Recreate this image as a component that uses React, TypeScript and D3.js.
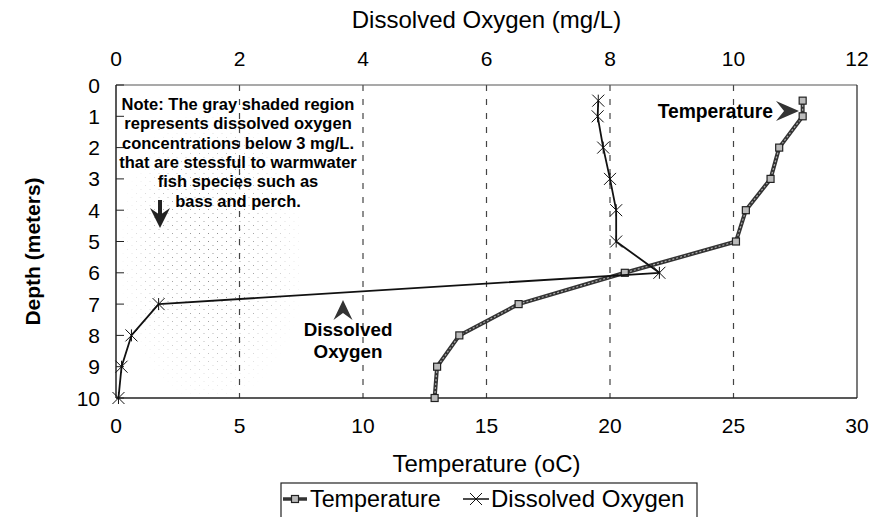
import React from 'react';
import * as d3 from 'd3';

// depth profile readings (m, oC, mg/L)
const depths = [0.5, 1, 2, 3, 4, 5, 6, 7, 8, 9, 10];
const temperature = [27.8, 27.8, 26.85, 26.5, 25.5, 25.1, 20.6, 16.3, 13.9, 13.0, 12.9];
const dissolvedOxygen = [7.81, 7.8, 7.89, 8.0, 8.1, 8.1, 8.8, 0.69, 0.25, 0.09, 0.04];

const tempTicks = [0, 5, 10, 15, 20, 25, 30];
const doTicks = [0, 2, 4, 6, 8, 10, 12];
const depthTicks = [0, 1, 2, 3, 4, 5, 6, 7, 8, 9, 10];
const gridTemps = [5, 10, 15, 20, 25];

const noteLines = [
  'Note: The gray shaded region',
  'represents dissolved oxygen',
  'concentrations below 3 mg/L.',
  'that are stessful to warmwater',
  'fish species such as',
  'bass and perch.',
];

const W = 875;
const H = 517;
const plot = { left: 116, right: 857, top: 85, bottom: 398 };
const font = '"Liberation Sans", Arial, sans-serif';

// stealth-style arrow head
function arrowHead(tx: number, ty: number, dx: number, dy: number, len: number, hw: number) {
  const px = -dy, py = dx;
  const bx = tx - dx * len, by = ty - dy * len;
  const nx = tx - dx * len * 0.65, ny = ty - dy * len * 0.65;
  return `M${tx},${ty}L${bx + px * hw},${by + py * hw}L${nx},${ny}L${bx - px * hw},${by - py * hw}Z`;
}

export default function App() {
  const xT = d3.scaleLinear().domain([0, 30]).range([plot.left, plot.right]);
  const xO = d3.scaleLinear().domain([0, 12]).range([plot.left, plot.right]);
  const y = d3.scaleLinear().domain([0, 10]).range([plot.top, plot.bottom]);

  const tempLine = d3.line<number>()
    .x((_, i) => xT(temperature[i]))
    .y(d => y(d));
  const doLine = d3.line<number>()
    .x((_, i) => xO(dissolvedOxygen[i]))
    .y(d => y(d));

  const cx = (plot.left + plot.right) / 2;

  return (
    <svg width={W} height={H} viewBox={`0 0 ${W} ${H}`}
      style={{ position: 'absolute', left: 0, top: 0, background: '#fff', fontFamily: font }}>
      <defs>
        <pattern id="stip" width="9" height="8" patternUnits="userSpaceOnUse">
          <rect x="1" y="1" width="1" height="1" fill="#777" />
          <rect x="5.5" y="5" width="1" height="1" fill="#888" />
        </pattern>
        <radialGradient id="fade" cx="0.5" cy="0.5" r="0.5">
          <stop offset="0" stopColor="#fff" stopOpacity="0.9" />
          <stop offset="0.55" stopColor="#fff" stopOpacity="0.6" />
          <stop offset="1" stopColor="#fff" stopOpacity="0" />
        </radialGradient>
        <mask id="fadeMask">
          <ellipse cx={xO(1.55)} cy={y(5.4)} rx="95" ry="150" fill="url(#fade)" />
        </mask>
      </defs>

      {/* gray shaded low-oxygen region */}
      <rect x={xO(0.1)} y={y(0.5)} width={xO(3) - xO(0.1)} height={y(9.9) - y(0.5)}
        fill="url(#stip)" mask="url(#fadeMask)" />

      {/* vertical dashed gridlines */}
      {gridTemps.map(t => (
        <line key={t} x1={xT(t)} x2={xT(t)} y1={plot.top} y2={plot.bottom}
          stroke="#444" strokeWidth={1.2} strokeDasharray="6,8" />
      ))}

      {/* plot frame */}
      <line x1={plot.left} x2={plot.right} y1={plot.top} y2={plot.top} stroke="#555" strokeWidth={1.2} />
      <line x1={plot.left} x2={plot.right} y1={plot.bottom} y2={plot.bottom} stroke="#222" strokeWidth={1.5} />
      <line x1={plot.left} x2={plot.left} y1={plot.top} y2={plot.bottom} stroke="#222" strokeWidth={1.5} />
      <line x1={plot.right} x2={plot.right} y1={plot.top} y2={plot.bottom} stroke="#222" strokeWidth={1.2} />
      {depthTicks.map(d => (
        <line key={d} x1={plot.left} x2={plot.left + 8} y1={y(d)} y2={y(d)} stroke="#222" strokeWidth={1} />
      ))}

      {/* top axis: dissolved oxygen */}
      <text x={cx} y={28} textAnchor="middle" fontSize={24}>Dissolved Oxygen (mg/L)</text>
      {doTicks.map(v => (
        <text key={v} x={xO(v)} y={66} textAnchor="middle" fontSize={21}>{v}</text>
      ))}

      {/* bottom axis: temperature */}
      {tempTicks.map(v => (
        <text key={v} x={xT(v)} y={433} textAnchor="middle" fontSize={21}>{v}</text>
      ))}
      <text x={cx} y={472} textAnchor="middle" fontSize={24}>Temperature (oC)</text>

      {/* left axis: depth */}
      {depthTicks.map(d => (
        <text key={d} x={100} y={y(d) + 7.5} textAnchor="end" fontSize={21}>{d}</text>
      ))}
      <text transform={`translate(40,${(plot.top + plot.bottom) / 2 + 10}) rotate(-90)`}
        textAnchor="middle" fontSize={21} fontWeight="bold">Depth (meters)</text>

      {/* temperature series */}
      <path d={tempLine(depths) ?? ''} fill="none" stroke="#333" strokeWidth={4} strokeLinejoin="round" />
      <path d={tempLine(depths) ?? ''} fill="none" stroke="#aaa" strokeWidth={1.2} strokeDasharray="2,2" />
      {depths.map((d, i) => (
        <rect key={d} x={xT(temperature[i]) - 3.5} y={y(d) - 3.5} width={7} height={7}
          fill="#bbb" stroke="#222" strokeWidth={1.2} />
      ))}

      {/* dissolved oxygen series */}
      <path d={doLine(depths) ?? ''} fill="none" stroke="#111" strokeWidth={1.8} strokeLinejoin="round" />
      {depths.map((d, i) => {
        const px = xO(dissolvedOxygen[i]);
        const py = y(d);
        return (
          <g key={d} stroke="#111" strokeWidth={1}>
            <line x1={px - 6} x2={px + 6} y1={py - 6} y2={py + 6} />
            <line x1={px - 6} x2={px + 6} y1={py + 6} y2={py - 6} />
            <line x1={px} x2={px} y1={py - 6} y2={py + 6} />
          </g>
        );
      })}

      {/* note */}
      {noteLines.map((s, i) => (
        <text key={i} x={238} y={110 + i * 19.3} textAnchor="middle" fontSize={16.5} fontWeight="bold">{s}</text>
      ))}
      <rect x={158} y={200} width={4} height={16} fill="#222" />
      <path d={arrowHead(160, 228, 0, 1, 20, 10)} fill="#222" />

      {/* series annotations */}
      <text x={773} y={118} textAnchor="end" fontSize={19.3} fontWeight="bold">Temperature</text>
      <path d={arrowHead(799, 111, 1, 0, 23, 10)} fill="#333" />
      <path d={arrowHead(343, 300, 0, -1, 20, 9.5)} fill="#333" />
      <text x={348} y={336} textAnchor="middle" fontSize={18.8} fontWeight="bold">Dissolved</text>
      <text x={348} y={358} textAnchor="middle" fontSize={18.8} fontWeight="bold">Oxygen</text>

      {/* legend */}
      <rect x={281} y={483} width={416} height={60} fill="#fff" stroke="#222" strokeWidth={1.2} />
      <line x1={283} x2={307} y1={499} y2={499} stroke="#333" strokeWidth={3.5} />
      <rect x={291.5} y={495.5} width={7} height={7} fill="#bbb" stroke="#222" strokeWidth={1.2} />
      <text x={310} y={507} fontSize={23.3}>Temperature</text>
      <line x1={463} x2={489} y1={499} y2={499} stroke="#111" strokeWidth={1.5} />
      <g stroke="#111" strokeWidth={1}>
        <line x1={470} x2={482} y1={493} y2={505} />
        <line x1={470} x2={482} y1={505} y2={493} />
      </g>
      <text x={491} y={507} fontSize={24}>Dissolved Oxygen</text>
    </svg>
  );
}
